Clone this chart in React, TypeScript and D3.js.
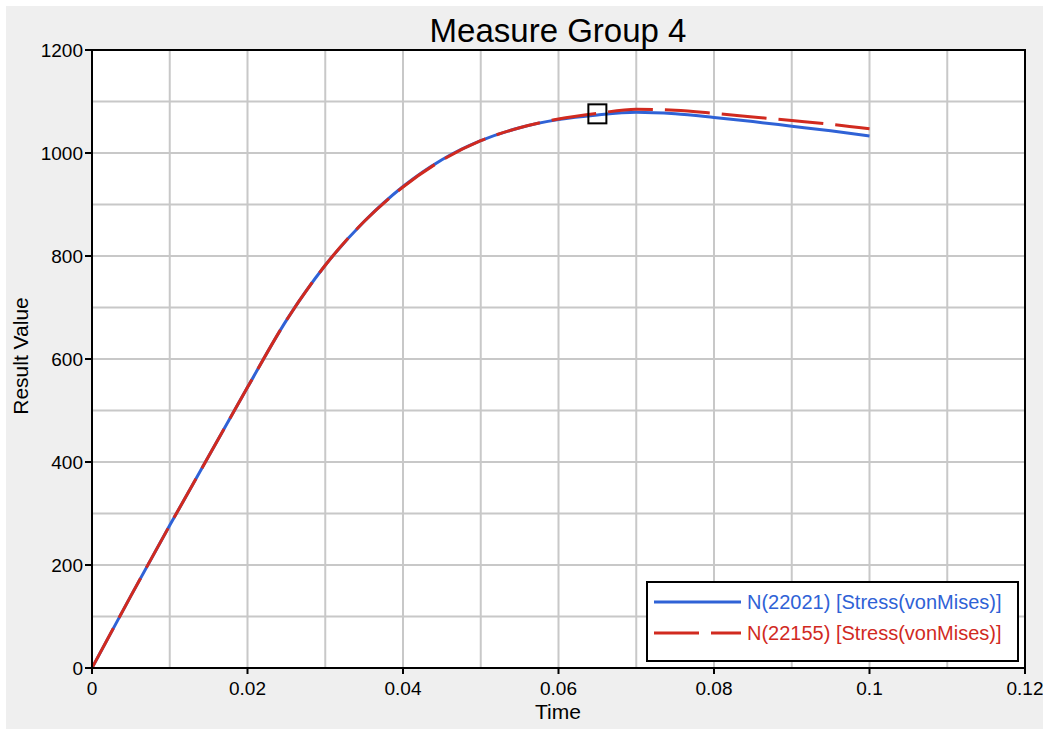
import * as d3 from 'd3';

const times = [0, 0.005, 0.01, 0.015, 0.02, 0.025, 0.03, 0.035, 0.04, 0.045, 0.05, 0.055, 0.06, 0.065, 0.07, 0.075, 0.08, 0.085, 0.09, 0.095, 0.1];
const node22021 = [0, 140, 277, 411, 545, 675, 782, 867, 935, 987, 1024, 1049, 1065, 1074, 1079, 1076, 1069, 1061, 1052, 1043, 1033];
const node22155 = [0, 140, 277, 411, 545, 675, 782, 867, 934, 986, 1024, 1049, 1066, 1077, 1085, 1083, 1077, 1070, 1063, 1056, 1047];
const xTicks = [0, 0.02, 0.04, 0.06, 0.08, 0.1, 0.12];
const yTicks = [0, 200, 400, 600, 800, 1000, 1200];
const cursor = { t: 0.065, v: 1077 };

const seriesList = [
  { name: 'N(22021) [Stress(vonMises)]', values: node22021, color: '#2f62d6', dash: null },
  { name: 'N(22155) [Stress(vonMises)]', values: node22155, color: '#d12a1f', dash: '45 12' },
];

const W = 1043;
const H = 729;
const plot = { left: 92, top: 50, right: 1025, bottom: 668 };
const font = '"Liberation Sans", Arial, sans-serif';

export default function App() {
  const x = d3.scaleLinear().domain([0, 0.12]).range([plot.left, plot.right]);
  const y = d3.scaleLinear().domain([0, 1200]).range([plot.bottom, plot.top]);

  const xGrid = d3.range(0, 13).map((i) => i / 100);
  const yGrid = d3.range(0, 13).map((i) => i * 100);

  const line = d3
    .line<number>()
    .x((_, i) => x(times[i]))
    .y((d) => y(d))
    .curve(d3.curveMonotoneX);

  const lg = { x: 647, y: 582, w: 371, h: 79 };

  return (
    <svg width={W} height={H} style={{ position: 'absolute', left: 0, top: 0, display: 'block' }}>
      <rect x={0} y={0} width={W} height={H} fill="#ffffff" />
      <rect x={6} y={6} width={W - 6} height={H - 6} fill="#efefef" />

      <text x={558} y={42} textAnchor="middle" fontFamily={font} fontSize={33} fill="#000">
        Measure Group 4
      </text>

      <rect x={plot.left} y={plot.top} width={plot.right - plot.left} height={plot.bottom - plot.top} fill="#ffffff" />

      {/* grid */}
      <g stroke="#c8c8c8" strokeWidth={2}>
        {xGrid.map((t) => (
          <line key={'gx' + t} x1={x(t)} x2={x(t)} y1={plot.top} y2={plot.bottom} />
        ))}
        {yGrid.map((v) => (
          <line key={'gy' + v} x1={plot.left} x2={plot.right} y1={y(v)} y2={y(v)} />
        ))}
      </g>

      {/* curves */}
      {seriesList.map((s) => (
        <path
          key={s.name}
          d={line(s.values) || ''}
          fill="none"
          stroke={s.color}
          strokeWidth={3}
          strokeDasharray={s.dash || undefined}
        />
      ))}

      {/* cursor marker */}
      <rect x={x(cursor.t) - 9} y={y(cursor.v) - 9} width={18} height={19} fill="none" stroke="#000" strokeWidth={2} />

      {/* frame */}
      <rect
        x={plot.left}
        y={plot.top}
        width={plot.right - plot.left}
        height={plot.bottom - plot.top}
        fill="none"
        stroke="#000"
        strokeWidth={2}
      />

      {/* axes ticks */}
      <g stroke="#000" strokeWidth={2}>
        {xTicks.map((t) => (
          <line key={'tx' + t} x1={x(t)} x2={x(t)} y1={plot.bottom} y2={plot.bottom + 6} />
        ))}
        {yTicks.map((v) => (
          <line key={'ty' + v} x1={plot.left - 7} x2={plot.left} y1={y(v)} y2={y(v)} />
        ))}
      </g>
      <g fontFamily={font} fontSize={19} fill="#000">
        {xTicks.map((t) => (
          <text key={'lx' + t} x={x(t)} y={695} textAnchor="middle">
            {d3.format('~g')(t)}
          </text>
        ))}
        {yTicks.map((v) => (
          <text key={'ly' + v} x={83} y={y(v) + 7} textAnchor="end">
            {v}
          </text>
        ))}
      </g>

      <text x={558} y={719} textAnchor="middle" fontFamily={font} fontSize={21} fill="#000">
        Time
      </text>
      <text
        transform="translate(28,356) rotate(-90)"
        textAnchor="middle"
        fontFamily={font}
        fontSize={21}
        fill="#000"
      >
        Result Value
      </text>

      {/* legend */}
      <rect x={lg.x} y={lg.y} width={lg.w} height={lg.h} fill="#ffffff" stroke="#000" strokeWidth={2} />
      {seriesList.map((s, i) => {
        const ly = 602 + i * 31;
        return (
          <g key={'leg' + s.name}>
            <line
              x1={654}
              x2={741}
              y1={ly}
              y2={ly}
              stroke={s.color}
              strokeWidth={3}
              strokeDasharray={s.dash || undefined}
            />
            <text x={747} y={ly + 7} fontFamily={font} fontSize={20} fill={s.color}>
              {s.name}
            </text>
          </g>
        );
      })}
    </svg>
  );
}
